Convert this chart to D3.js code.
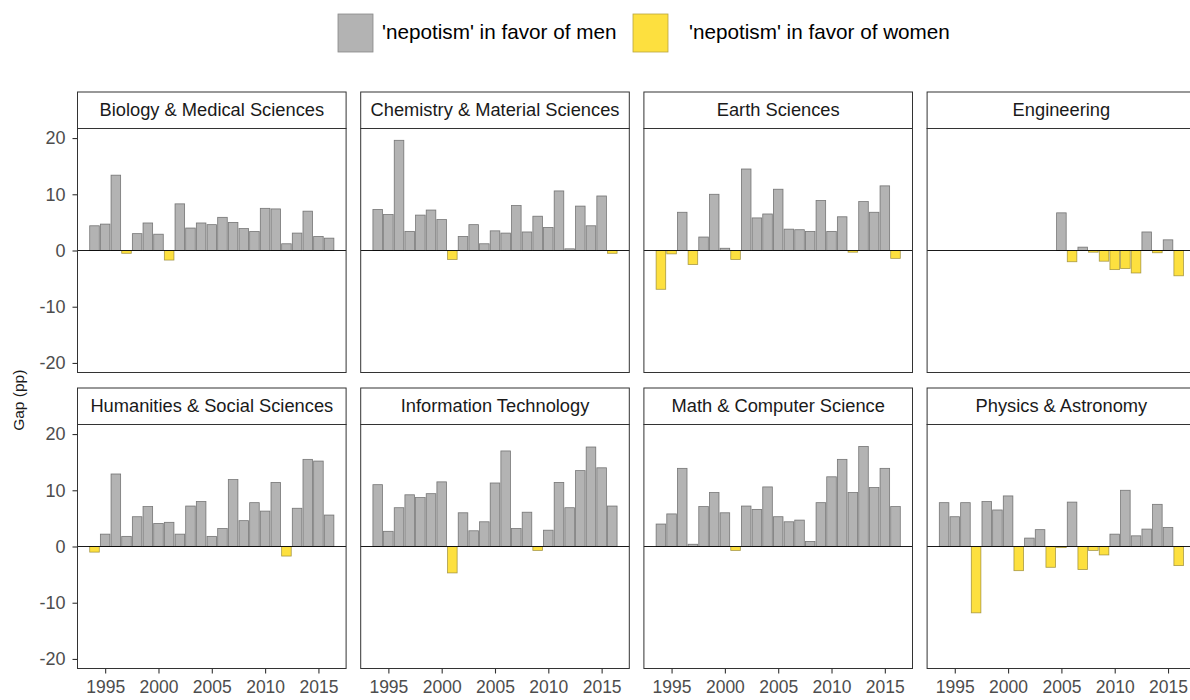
<!DOCTYPE html>
<html>
<head>
<meta charset="utf-8">
<script src="https://cdn.jsdelivr.net/npm/d3@7"></script>
<style>
  html, body { margin: 0; padding: 0; background: #fff; }
  svg { display: block; font-family: "Liberation Sans", Arial, Helvetica, sans-serif; }
</style>
</head>
<body>
<svg id="chart" width="1190" height="700"></svg>
<script>
// Gender gap ("nepotism") per field and year, in percentage points.
const years = [1994, 1995, 1996, 1997, 1998, 1999, 2000, 2001, 2002, 2003, 2004, 2005,
               2006, 2007, 2008, 2009, 2010, 2011, 2012, 2013, 2014, 2015, 2016];

const fields = [
  "Biology & Medical Sciences", "Chemistry & Material Sciences", "Earth Sciences", "Engineering",
  "Humanities & Social Sciences", "Information Technology", "Math & Computer Science", "Physics & Astronomy"
];

const biology     = [4.4, 4.7, 13.4, -0.5, 3.0, 4.9, 2.9, -1.7, 8.3, 4.0, 4.9, 4.6,
                     5.9, 5.0, 3.9, 3.4, 7.5, 7.4, 1.2, 3.1, 7.0, 2.5, 2.2];
const chemistry   = [7.3, 6.4, 19.6, 3.4, 6.3, 7.2, 5.5, -1.6, 2.5, 4.6, 1.2, 3.5,
                     3.1, 8.0, 3.3, 6.1, 4.1, 10.6, 0.3, 7.9, 4.4, 9.7, -0.5];
const earth       = [-6.9, -0.6, 6.8, -2.5, 2.4, 10.0, 0.4, -1.6, 14.5, 5.8, 6.5, 10.9,
                     3.8, 3.7, 3.4, 8.9, 3.4, 6.0, -0.3, 8.7, 6.8, 11.5, -1.4];
const engineering = [null, null, null, null, null, null, null, null, null, null, null, 6.7,
                     -2.0, 0.6, -0.3, -1.9, -3.4, -3.2, -4.0, 3.3, -0.4, 1.9, -4.5];
const humanities  = [-1.0, 2.2, 12.9, 1.8, 5.3, 7.1, 4.1, 4.3, 2.2, 7.2, 8.0, 1.8,
                     3.2, 11.9, 4.6, 7.8, 6.3, 11.4, -1.7, 6.8, 15.5, 15.2, 5.6];
const infotech    = [11.0, 2.7, 6.9, 9.2, 8.7, 9.4, 11.5, -4.7, 6.0, 2.8, 4.4, 11.3,
                     17.0, 3.2, 6.1, -0.7, 2.9, 11.4, 6.9, 13.5, 17.7, 14.0, 7.2];
const mathcs      = [4.0, 5.8, 13.9, 0.4, 7.1, 9.6, 6.0, -0.7, 7.2, 6.6, 10.6, 5.3,
                     4.4, 4.7, 0.9, 7.8, 12.4, 15.5, 9.6, 17.8, 10.5, 13.9, 7.1];
const physics     = [7.8, 5.3, 7.8, -11.8, 8.0, 6.5, 9.0, -4.3, 1.5, 3.0, -3.7, -0.2,
                     7.9, -4.1, -0.7, -1.5, 2.2, 10.0, 1.9, 3.1, 7.5, 3.4, -3.4];

const seriesByField = [biology, chemistry, earth, engineering, humanities, infotech, mathcs, physics];

const yTicks = [-20, -10, 0, 10, 20];
const xTicks = [1995, 2000, 2005, 2010, 2015];

const legendLabels = ["'nepotism' in favor of men", "'nepotism' in favor of women"];
const colorMen = "#b3b3b3";
const colorWomen = "#fde03f";

// ---- layout ----
const panelX0 = 77.5, panelW = 268.6, panelGap = 14.6;
const stripTops = [92, 388], stripH = 36.5, plotH = 244;

const svg = d3.select("#chart");

const x = d3.scaleLinear().domain([1992.405, 2017.595]).range([0, panelW]);
const y = d3.scaleLinear().domain([-21.7, 21.7]).range([plotH, 0]);
const barW = x(1992.405 + 0.9) - x(1992.405);

// plain hyphen for negative tick labels
const yFormat = d => String(d);

fields.forEach((name, i) => {
  const col = i % 4, row = Math.floor(i / 4);
  const px = panelX0 + col * (panelW + panelGap);
  const sTop = stripTops[row];
  const pTop = sTop + stripH;

  // strip
  const strip = svg.append("g").attr("transform", `translate(${px},${sTop})`);
  strip.append("rect")
    .attr("width", panelW).attr("height", stripH)
    .attr("fill", "#fff").attr("stroke", "#333").attr("stroke-width", 1);
  strip.append("text")
    .attr("x", panelW / 2).attr("y", stripH / 2 + 1)
    .attr("text-anchor", "middle").attr("dominant-baseline", "middle")
    .attr("font-size", 18.3).attr("fill", "#1a1a1a")
    .text(name);

  const g = svg.append("g").attr("transform", `translate(${px},${pTop})`);
  g.append("rect").attr("width", panelW).attr("height", plotH).attr("fill", "#fff");

  const data = years.map((yr, k) => ({ year: yr, value: seriesByField[i][k] }))
    .filter(d => d.value !== null);

  g.selectAll("rect.bar").data(data).enter().append("rect")
    .attr("class", "bar")
    .attr("x", d => x(d.year) - barW / 2)
    .attr("width", barW)
    .attr("y", d => y(Math.max(0, d.value)))
    .attr("height", d => Math.abs(y(d.value) - y(0)))
    .attr("fill", d => d.value >= 0 ? colorMen : colorWomen)
    .attr("stroke", d => d.value >= 0 ? "#555" : "#8c7d2c")
    .attr("stroke-opacity", 0.75)
    .attr("stroke-width", 0.8);

  // zero line
  g.append("line")
    .attr("x1", 0).attr("x2", panelW)
    .attr("y1", y(0)).attr("y2", y(0))
    .attr("stroke", "#000").attr("stroke-width", 0.9);

  // panel border
  g.append("rect").attr("width", panelW).attr("height", plotH)
    .attr("fill", "none").attr("stroke", "#333").attr("stroke-width", 1);

  // y axis on first column
  if (col === 0) {
    const ya = g.append("g")
      .call(d3.axisLeft(y).tickValues(yTicks).tickFormat(yFormat).tickSize(5).tickPadding(7));
    ya.select(".domain").remove();
    ya.selectAll(".tick line").attr("stroke", "#333").attr("stroke-width", 1.1);
    ya.selectAll(".tick text")
      .attr("font-size", 18).attr("fill", "#4d4d4d")
      .attr("font-family", "'Liberation Sans', Arial, sans-serif");
  }

  // x axis on bottom row
  if (row === 1) {
    const xa = g.append("g").attr("transform", `translate(0,${plotH})`)
      .call(d3.axisBottom(x).tickValues(xTicks).tickFormat(d3.format("d")).tickSize(5).tickPadding(7));
    xa.select(".domain").remove();
    xa.selectAll(".tick line").attr("stroke", "#333").attr("stroke-width", 1.1);
    xa.selectAll(".tick text")
      .attr("font-size", 17.5).attr("fill", "#4d4d4d")
      .attr("font-family", "'Liberation Sans', Arial, sans-serif");
  }
});

// y axis title
svg.append("text")
  .attr("transform", `translate(24,${(stripTops[0] + stripTops[1] + stripH + plotH) / 2 + 20}) rotate(-90)`)
  .attr("text-anchor", "middle")
  .attr("font-size", 15.5).attr("fill", "#1a1a1a")
  .text("Gap (pp)");

// legend
const legend = svg.append("g");
const legendItems = [
  { label: legendLabels[0], color: colorMen, stroke: "#888", boxX: 338, textX: 382 },
  { label: legendLabels[1], color: colorWomen, stroke: "#b8a640", boxX: 633, textX: 689 }
];
legendItems.forEach(it => {
  legend.append("rect")
    .attr("x", it.boxX).attr("y", 14).attr("width", 35).attr("height", 38)
    .attr("fill", it.color).attr("stroke", it.stroke).attr("stroke-width", 0.8);
  legend.append("text")
    .attr("x", it.textX).attr("y", 34)
    .attr("dominant-baseline", "middle")
    .attr("font-size", 20.7).attr("fill", "#000")
    .text(it.label);
});
</script>
</body>
</html>
